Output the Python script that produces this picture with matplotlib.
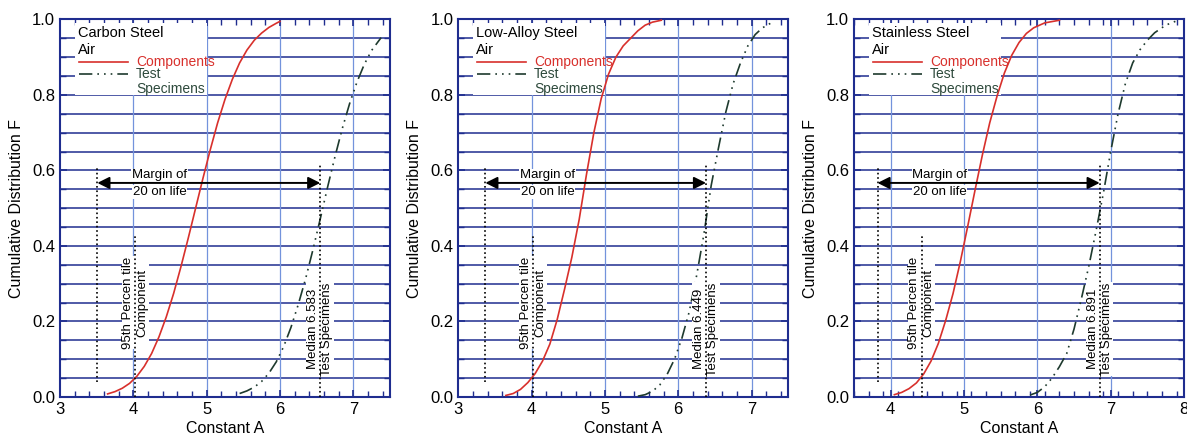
import matplotlib
matplotlib.use("Agg")
import matplotlib.pyplot as plt
import numpy as np

plt.rcParams['font.family'] = ['Liberation Sans', 'DejaVu Sans']

# panel titles and x ranges
materials = ["Carbon Steel", "Low-Alloy Steel", "Stainless Steel"]
x_limits = [(3, 7.5), (3, 7.5), (3.5, 8)]
x_ticks = [[3, 4, 5, 6, 7], [3, 4, 5, 6, 7], [4, 5, 6, 7, 8]]

# components curves (x, F)
comp_x = [
    [3.65, 3.75, 3.85, 3.95, 4.05, 4.15, 4.25, 4.35, 4.45, 4.55, 4.65, 4.75, 4.85,
     4.95, 5.05, 5.15, 5.25, 5.35, 5.45, 5.55, 5.65, 5.75, 5.85, 5.95, 6.0],
    [3.65, 3.75, 3.85, 3.95, 4.05, 4.15, 4.25, 4.35, 4.45, 4.55, 4.65, 4.75, 4.85,
     4.95, 5.05, 5.15, 5.25, 5.35, 5.45, 5.55, 5.65, 5.77],
    [4.05, 4.15, 4.25, 4.35, 4.45, 4.55, 4.65, 4.75, 4.85, 4.95, 5.05, 5.15, 5.25,
     5.35, 5.45, 5.55, 5.65, 5.75, 5.85, 5.95, 6.1, 6.3],
]
comp_f = [
    [0.008, 0.014, 0.023, 0.036, 0.055, 0.081, 0.115, 0.159, 0.212, 0.274, 0.345, 0.421, 0.5,
     0.579, 0.655, 0.726, 0.788, 0.841, 0.885, 0.919, 0.945, 0.964, 0.979, 0.99, 0.995],
    [0.004, 0.009, 0.02, 0.038, 0.062, 0.095, 0.14, 0.205, 0.285, 0.37, 0.47, 0.59, 0.7,
     0.79, 0.855, 0.9, 0.93, 0.95, 0.97, 0.985, 0.993, 0.998],
    [0.006, 0.012, 0.022, 0.037, 0.061, 0.095, 0.142, 0.203, 0.274, 0.359, 0.452, 0.548, 0.641,
     0.726, 0.797, 0.858, 0.905, 0.939, 0.963, 0.978, 0.991, 0.998],
]

# test specimen curves
test_x = [
    [5.45, 5.55, 5.65, 5.75, 5.85, 5.95, 6.05, 6.15, 6.25, 6.35, 6.45, 6.55, 6.65,
     6.75, 6.85, 6.95, 7.05, 7.15, 7.25, 7.38],
    [5.45, 5.55, 5.65, 5.75, 5.85, 5.95, 6.05, 6.15, 6.25, 6.35, 6.45, 6.55, 6.65,
     6.75, 6.85, 6.95, 7.05, 7.15, 7.26],
    [5.9, 6.0, 6.1, 6.2, 6.3, 6.4, 6.5, 6.6, 6.7, 6.8, 6.9, 7.0, 7.1, 7.2, 7.3,
     7.4, 7.5, 7.6, 7.75, 7.92],
]
test_f = [
    [0.009, 0.016, 0.026, 0.041, 0.063, 0.093, 0.133, 0.184, 0.245, 0.313, 0.39, 0.472, 0.556,
     0.636, 0.711, 0.777, 0.834, 0.881, 0.918, 0.952],
    [0.002, 0.006, 0.015, 0.032, 0.06, 0.1, 0.155, 0.225, 0.32, 0.43, 0.56, 0.66, 0.755,
     0.83, 0.885, 0.93, 0.96, 0.978, 0.99],
    [0.005, 0.012, 0.027, 0.05, 0.08, 0.115, 0.18, 0.26, 0.345, 0.44, 0.54, 0.65, 0.75, 0.83, 0.885,
     0.92, 0.945, 0.965, 0.985, 0.998],
]

# marker lines: lower end of margin, 95th percentile component, median of tests
margin_low = [3.51, 3.37, 3.82]
pct95 = [4.03, 4.02, 4.42]
median_pos = [6.55, 6.38, 6.85]
median_text = ["6.583", "6.449", "6.891"]

RED = "#d8302c"
TEST = "#1e3a2e"
NAVY = "#1f2d8f"
LIGHT = "#7393dc"
DASH = (8, 3, 1, 3, 1, 3, 1, 3)

fig = plt.figure(figsize=(11.87, 4.43), dpi=100)
lefts = [0.0505, 0.386, 0.7195]
axes = [fig.add_axes([l, 0.104, 0.278, 0.852]) for l in lefts]

for i, ax in enumerate(axes):
    x0, x1 = x_limits[i]
    ax.set_xlim(x0, x1)
    ax.set_ylim(0, 1.0)

    for y in np.arange(0.05, 1.0, 0.05):
        ax.axhline(y, color=NAVY, lw=1.1, zorder=1)
    for x in x_ticks[i]:
        if x0 < x < x1:
            ax.axvline(x, color=LIGHT, lw=0.9, zorder=1)

    # legend block background (under the curves, over the grid)
    ax.add_patch(plt.Rectangle((0.045, 0.80), 0.40, 0.19, transform=ax.transAxes,
                               facecolor="white", edgecolor="none", zorder=2))

    ax.plot(comp_x[i], comp_f[i], color=RED, lw=1.2, zorder=3)
    ax.plot(test_x[i], test_f[i], color=TEST, lw=1.2, zorder=3, dashes=DASH)

    # dotted reference lines
    ax.plot([margin_low[i]] * 2, [0.04, 0.61], color="k", ls=":", lw=1.2, zorder=6)
    ax.plot([pct95[i]] * 2, [0.0, 0.43], color="k", ls=":", lw=1.2, zorder=6)
    ax.plot([median_pos[i]] * 2, [0.0, 0.62], color="k", ls=":", lw=1.2, zorder=6)

    ax.annotate("", xy=(margin_low[i], 0.567), xytext=(median_pos[i], 0.567),
                arrowprops=dict(arrowstyle="<|-|>", color="k", lw=1.4,
                                mutation_scale=18, shrinkA=0, shrinkB=0),
                zorder=5)
    tx = margin_low[i] + 0.85
    box = dict(facecolor="white", edgecolor="none", pad=0.5)
    ax.text(tx, 0.587, "Margin of", ha="center", va="center", fontsize=9.5,
            bbox=box, zorder=4)
    ax.text(tx, 0.543, "20 on life", ha="center", va="center", fontsize=9.5,
            bbox=box, zorder=4)

    ax.text(pct95[i], 0.25, "95th Percen tile\nComponent", rotation=90,
            ha="center", va="center", fontsize=9.5, linespacing=1.25,
            bbox=box, zorder=4)
    ax.text(median_pos[i], 0.18, "Median " + median_text[i] + "\nTest Specimens",
            rotation=90, ha="center", va="center", fontsize=9.5, linespacing=1.25,
            bbox=box, zorder=4)

    # legend block
    ax.text(0.055, 0.963, materials[i], transform=ax.transAxes, fontsize=10.5,
            va="center", zorder=5)
    ax.text(0.055, 0.92, "Air", transform=ax.transAxes, fontsize=10.5,
            va="center", zorder=5)
    ax.plot([0.058, 0.206], [0.887, 0.887], transform=ax.transAxes, color=RED,
            lw=1.2, zorder=5)
    ax.plot([0.058, 0.206], [0.856, 0.856], transform=ax.transAxes, color=TEST,
            lw=1.2, dashes=DASH, zorder=5)
    ax.text(0.23, 0.887, "Components", transform=ax.transAxes, fontsize=10,
            color=RED, va="center", zorder=5)
    ax.text(0.23, 0.856, "Test", transform=ax.transAxes, fontsize=10,
            color="#2e4a3c", va="center", zorder=5)
    ax.text(0.23, 0.816, "Specimens", transform=ax.transAxes, fontsize=10,
            color="#2e4a3c", va="center", zorder=5)

    ax.set_xticks(x_ticks[i])
    ax.set_xticks(np.arange(x0, x1 + 0.001, 0.2), minor=True)
    ax.set_yticks([0, 0.2, 0.4, 0.6, 0.8, 1.0])
    ax.set_yticklabels(["0.0", "0.2", "0.4", "0.6", "0.8", "1.0"])
    ax.set_yticks(np.arange(0, 1.001, 0.05), minor=True)
    ax.tick_params(which="both", direction="in", top=True, right=True,
                   color=NAVY, labelsize=12)
    ax.tick_params(which="major", length=5, width=1.2)
    ax.tick_params(which="minor", length=4, width=1.0)
    for s in ax.spines.values():
        s.set_color(NAVY)
        s.set_linewidth(1.5)
    ax.set_xlabel("Constant A", fontsize=11.5, labelpad=3)
    ax.set_ylabel("Cumulative Distribution F", fontsize=11.5, labelpad=6)

fig.savefig("out.png", dpi=100)
